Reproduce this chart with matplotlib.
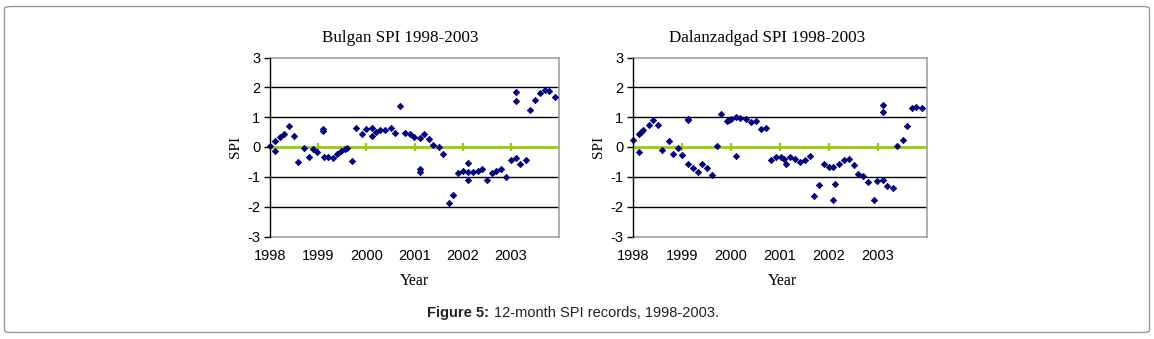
import matplotlib

matplotlib.use("Agg")
import matplotlib.pyplot as plt
from matplotlib.patches import FancyBboxPatch

# x positions are months since Jan 1998
bulgan_month = [0, 1.3, 1.3, 2.4, 3.6, 4.8, 6.0, 7.1, 8.4, 9.6, 10.8, 11.6,
                13.3, 13.3, 13.4, 14.5, 15.6, 16.7, 17.8, 18.6, 19.2, 20.5,
                21.5, 22.8, 24.0, 25.3, 25.3, 26.3, 27.5, 28.7, 30.1, 31.1,
                32.5, 33.6, 34.9, 35.9, 37.4, 37.4, 37.4, 38.4, 39.7, 40.7,
                42.2, 43.2, 44.6, 45.6, 46.9, 48.0, 49.4, 49.4, 49.4, 50.5,
                51.7, 52.7, 54.1, 55.2, 56.4, 57.5, 58.9, 60.0, 61.2, 61.2,
                61.2, 62.3, 63.7, 64.8, 66.0, 67.2, 68.4, 69.5, 70.9]
bulgan_spi = [0.05, -0.14, 0.19, 0.32, 0.43, 0.70, 0.38, -0.51, -0.04, -0.32,
              -0.08, -0.16, 0.61, 0.53, -0.33, -0.33, -0.38, -0.22, -0.14,
              -0.07, -0.03, -0.47, 0.65, 0.43, 0.60, 0.65, 0.37, 0.51, 0.56,
              0.56, 0.65, 0.47, 1.36, 0.47, 0.43, 0.34, 0.31, -0.73, -0.84,
              0.43, 0.27, 0.06, 0.0, -0.23, -1.88, -1.61, -0.88, -0.79, -0.55,
              -0.83, -1.10, -0.83, -0.79, -0.74, -1.10, -0.88, -0.81, -0.74,
              -1.0, -0.42, -0.37, 1.86, 1.53, -0.56, -0.42, 1.25, 1.58, 1.82,
              1.92, 1.88, 1.69]

dalan_month = [0, 1.5, 1.5, 2.0, 2.5, 3.9, 4.9, 6.2, 7.2, 8.7, 9.7, 11.1, 12.0,
               13.4, 13.4, 13.4, 14.6, 15.8, 16.8, 18.2, 19.3, 20.6, 21.6,
               22.9, 23.6, 24.1, 25.3, 25.3, 26.3, 27.7, 29.0, 30.1, 31.3,
               32.5, 33.7, 34.9, 36.3, 37.1, 37.4, 38.5, 39.6, 40.9, 42.0,
               43.3, 44.3, 45.6, 46.7, 47.9, 49.0, 49.0, 49.4, 50.5, 51.6,
               52.8, 54.1, 55.2, 56.4, 57.5, 58.9, 59.8, 61.3, 61.3, 61.3,
               62.3, 63.6, 64.6, 66.0, 67.0, 68.4, 69.3, 70.7]
dalan_spi = [0.25, -0.18, 0.45, 0.51, 0.56, 0.73, 0.90, 0.74, -0.09, 0.19,
             -0.25, -0.03, -0.28, 0.90, 0.94, -0.56, -0.70, -0.84, -0.56,
             -0.70, -0.93, 0.05, 1.10, 0.88, 0.92, 0.93, -0.31, 0.99, 0.98,
             0.93, 0.83, 0.88, 0.61, 0.64, -0.45, -0.32, -0.35, -0.40, -0.58,
             -0.35, -0.40, -0.51, -0.45, -0.29, -1.65, -1.28, -0.58, -0.66,
             -0.66, -1.78, -1.23, -0.58, -0.45, -0.40, -0.62, -0.89, -0.98,
             -1.18, -1.78, -1.13, -1.09, 1.40, 1.16, -1.32, -1.37, 0.05, 0.25,
             0.70, 1.30, 1.34, 1.30]

year_labels = ["1998", "1999", "2000", "2001", "2002", "2003"]
year_months = [0, 12, 24, 36, 48, 60]
y_ticks = [-3, -2, -1, 0, 1, 2, 3]

W, H = 1154, 339
SANS = "Liberation Sans"
SERIF = "Liberation Serif"
GREEN = "#99cc00"
NAVY = "#000080"
BORDER = "#a0a0a0"


def fx(px):
    return px / W


def fy(py):
    return 1 - py / H


def draw_panel(fig, left, right, months, spi, title, title_x, year_x, spi_x):
    ax = fig.add_axes([fx(left), fy(236.5), fx(right - left), (236.5 - 57.5) / H])
    ax.set_xlim(0, 72)
    ax.set_ylim(-3, 3)
    for v in [-2, -1, 1, 2]:
        ax.axhline(v, color="black", lw=1.0, zorder=1)
    ax.axhline(0, color=GREEN, lw=2.0, zorder=2)
    for m in year_months[1:]:
        ax.plot([m, m], [-0.14, 0.14], color=GREEN, lw=1.6, zorder=2,
                solid_capstyle="butt")
    ax.plot(months, spi, linestyle="none", marker="D", ms=3.2, mew=0.6,
            color=NAVY, mec=NAVY, zorder=3, clip_on=False)

    ax.set_yticks(y_ticks)
    ax.set_yticklabels([str(v) for v in y_ticks], fontfamily=SANS, fontsize=10.5)
    ax.set_xticks(year_months)
    ax.set_xticklabels(year_labels, fontfamily=SANS, fontsize=10.5)
    ax.tick_params(axis="y", direction="out", length=4, width=1,
                   color="black", pad=3)
    ax.tick_params(axis="x", length=0, pad=9)

    for side in ["top", "right", "bottom"]:
        ax.spines[side].set_color(BORDER)
        ax.spines[side].set_linewidth(1.2)
    ax.spines["left"].set_color("black")
    ax.spines["left"].set_linewidth(1.0)
    ax.spines["left"].set_zorder(4)

    fig.text(fx(title_x), fy(38), title, fontfamily=SERIF, fontsize=12.3,
             ha="center", va="center")
    fig.text(fx(year_x), fy(281), "Year", fontfamily=SERIF, fontsize=11.5,
             ha="center", va="center")
    fig.text(fx(spi_x), fy(147), "SPI", fontfamily=SERIF, fontsize=11,
             ha="center", va="center", rotation=90)
    return ax


fig = plt.figure(figsize=(W / 100, H / 100), dpi=100)

frame = FancyBboxPatch((fx(4.5), fy(332.5)), fx(1149.5 - 4.5), (332.5 - 6.5) / H,
                       boxstyle="round,pad=0,rounding_size=0.006",
                       transform=fig.transFigure, facecolor="none",
                       edgecolor="#999999", lw=1.0, zorder=0)
fig.patches.append(frame)

draw_panel(fig, 270, 559, bulgan_month, bulgan_spi,
           "Bulgan SPI 1998-2003", 400, 414, 236)
draw_panel(fig, 633, 927, dalan_month, dalan_spi,
           "Dalanzadgad SPI 1998-2003", 767, 782, 599)

fig.text(fx(489), fy(313), "Figure 5:", fontfamily=SANS, fontweight="bold",
         fontsize=10.5, color="#222222", ha="right", va="center")
fig.text(fx(494), fy(313), "12-month SPI records, 1998-2003.", fontfamily=SANS,
         fontsize=10.5, color="#222222", ha="left", va="center")

fig.savefig("out.png", dpi=100)
